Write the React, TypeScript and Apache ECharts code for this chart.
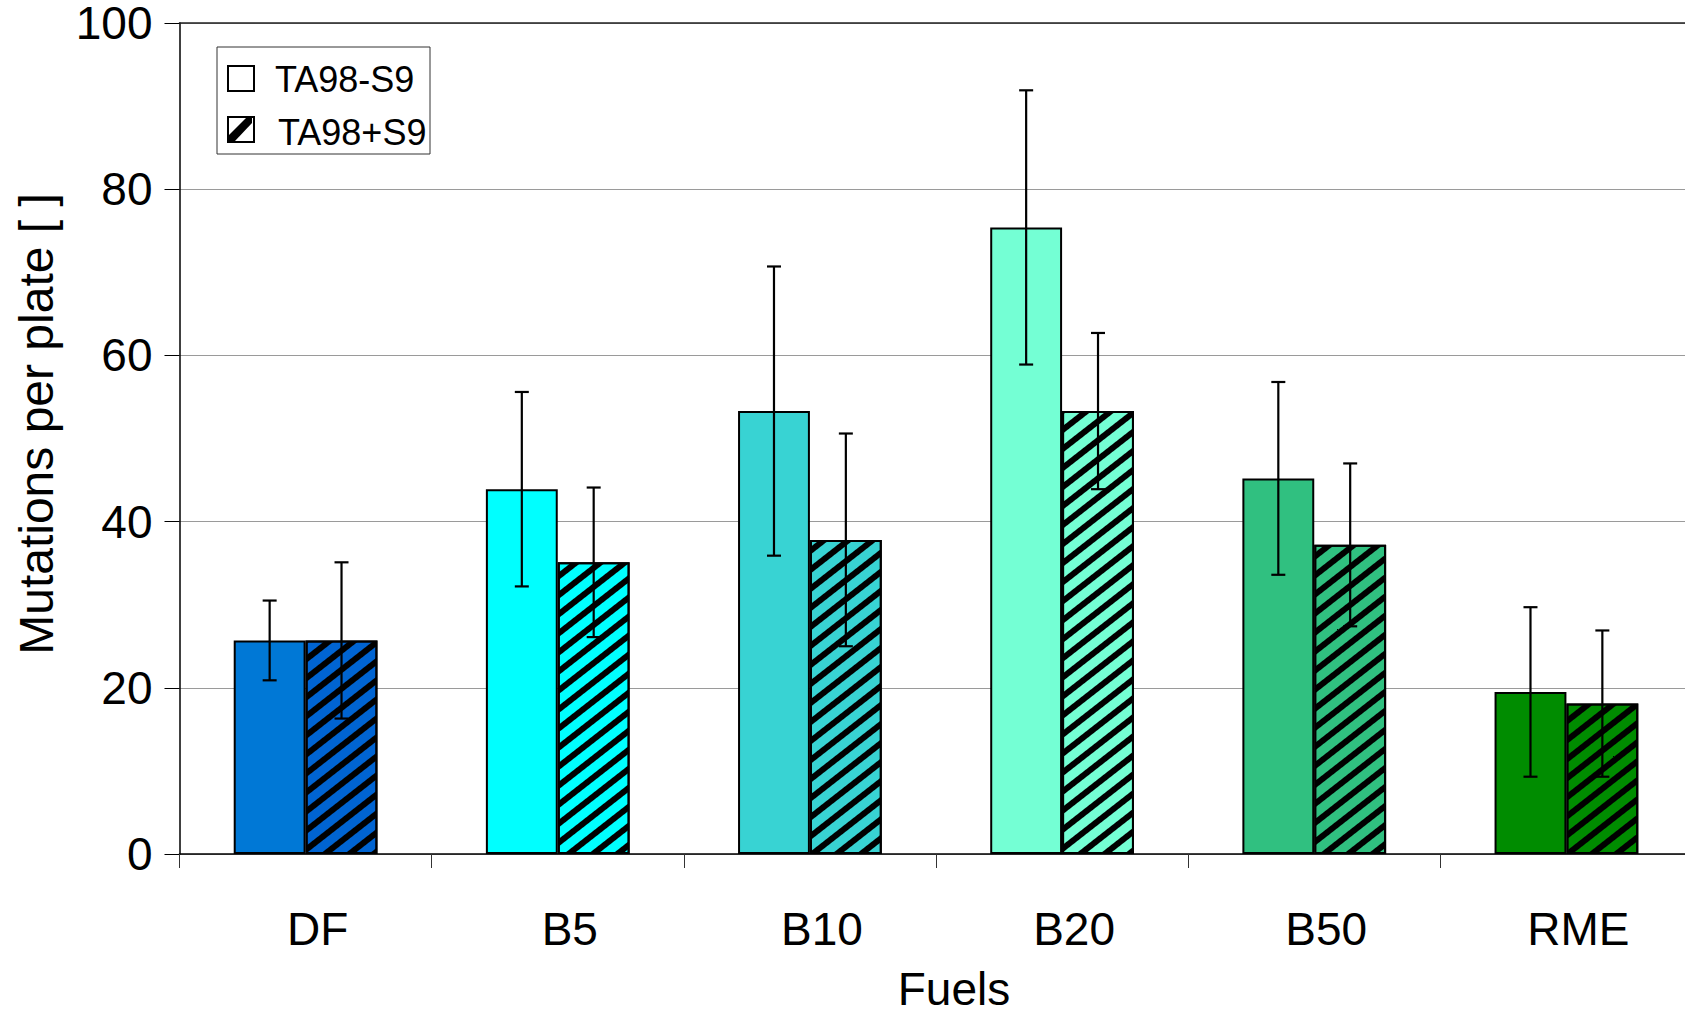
import React, { useEffect, useRef } from "react";
import * as echarts from "echarts";

const categories = ["DF", "B5", "B10", "B20", "B50", "RME"];
const seriesNames = ["TA98-S9", "TA98+S9"];
const minusS9 = [25.7, 43.9, 53.3, 75.4, 45.2, 19.5];
const minusS9Err = [4.8, 11.7, 17.4, 16.5, 11.6, 10.2];
const plusS9 = [25.7, 35.1, 37.8, 53.3, 37.2, 18.1];
const plusS9Err = [9.4, 9.0, 12.8, 9.4, 9.8, 8.8];
const minusColors = ["#0078D6", "#00FFFF", "#38D3D3", "#74FFD4", "#30C080", "#008C00"];
const plusColors = ["#0064D2", "#00FFFF", "#38D3D3", "#74FFD4", "#30C080", "#008C00"];
const yTicks = { min: 0, max: 100, interval: 20 };
const xAxisName = "Fuels";
const yAxisName = "Mutations per plate [ ]";

const FONT = "'Liberation Sans', Arial, Helvetica, sans-serif";
const CAT_GAP = 0.43;

function errorBarSeries(values: number[], errs: number[], side: number) {
  return {
    type: "custom",
    z: 10,
    silent: true,
    encode: { x: 0, y: [1, 2] },
    data: values.map((v, i) => [i, v - errs[i], v + errs[i]]),
    renderItem: (params: any, api: any) => {
      const cat = api.value(0);
      const lo = api.coord([cat, api.value(1)]);
      const hi = api.coord([cat, api.value(2)]);
      const bw = (api.size([1, 0])[0] * (1 - CAT_GAP)) / 2;
      const x = lo[0] + (side * bw) / 2;
      const cap = 7;
      const style = { stroke: "#000", lineWidth: 2.2 };
      return {
        type: "group",
        children: [
          { type: "line", shape: { x1: x, y1: hi[1], x2: x, y2: lo[1] }, style },
          { type: "line", shape: { x1: x - cap, y1: hi[1], x2: x + cap, y2: hi[1] }, style },
          { type: "line", shape: { x1: x - cap, y1: lo[1], x2: x + cap, y2: lo[1] }, style },
        ],
      };
    },
  };
}

const hatchDecal = {
  symbol: "rect",
  symbolSize: 1,
  dashArrayX: [1, 0],
  dashArrayY: [6, 9],
  rotation: (-38 * Math.PI) / 180,
  color: "#000",
};

export default function App() {
  const ref = useRef<HTMLDivElement>(null);
  useEffect(() => {
    if (!ref.current) return;
    const chart = echarts.init(ref.current, undefined, { renderer: "svg" });
    const lx = 217;
    const ly = 47;
    chart.setOption({
      animation: false,
      backgroundColor: "#fff",
      textStyle: { fontFamily: FONT, color: "#000" },
      grid: { left: 179.5, top: 21.5, right: 7.5, bottom: 159 },
      xAxis: [
        {
          type: "category",
          data: categories,
          boundaryGap: true,
          axisLine: { lineStyle: { color: "#000", width: 1.5 } },
          axisTick: { show: true, length: 14, lineStyle: { color: "#333", width: 1 } },
          axisLabel: {
            fontSize: 46,
            color: "#000",
            margin: 52,
            fontFamily: FONT,
            padding: [0, 0, 0, 24],
          },
          splitLine: { show: false },
        },
        {
          type: "category",
          position: "top",
          data: categories,
          axisLine: { show: true, lineStyle: { color: "#222", width: 1.5 } },
          axisTick: { show: false },
          axisLabel: { show: false },
        },
      ],
      yAxis: {
        type: "value",
        min: yTicks.min,
        max: yTicks.max,
        interval: yTicks.interval,
        axisLine: { show: true, lineStyle: { color: "#000", width: 1.5 } },
        axisTick: { show: true, length: 15, lineStyle: { color: "#000", width: 1 } },
        axisLabel: {
          fontSize: 46,
          lineHeight: 38,
          color: "#000",
          margin: 27,
          fontFamily: FONT,
          padding: [4, 0, 0, 0],
        },
        splitLine: { show: true, lineStyle: { color: "#9a9a9a", width: 1 } },
      },
      series: [
        {
          name: seriesNames[0],
          type: "bar",
          barGap: "0%",
          barCategoryGap: "43%",
          itemStyle: { borderColor: "#000", borderWidth: 2 },
          data: minusS9.map((v, i) => ({ value: v, itemStyle: { color: minusColors[i] } })),
        },
        {
          name: seriesNames[1],
          type: "bar",
          barGap: "0%",
          barCategoryGap: "43%",
          itemStyle: { borderColor: "#000", borderWidth: 2, decal: hatchDecal },
          data: plusS9.map((v, i) => ({
            value: v,
            itemStyle: { color: plusColors[i], decal: hatchDecal },
          })),
        },
        errorBarSeries(minusS9, minusS9Err, -1),
        errorBarSeries(plusS9, plusS9Err, 1),
      ],
      graphic: [
        {
          type: "text",
          x: 954,
          y: 989,
          style: {
            text: xAxisName,
            fontSize: 46,
            lineHeight: 40,
            fontFamily: FONT,
            fill: "#000",
            align: "center",
            verticalAlign: "middle",
          },
        },
        {
          type: "text",
          x: 36,
          y: 424,
          rotation: Math.PI / 2,
          style: {
            text: yAxisName,
            fontSize: 48,
            fontFamily: FONT,
            fill: "#000",
            align: "center",
            verticalAlign: "middle",
          },
        },
        {
          type: "group",
          z: 100,
          children: [
            {
              type: "rect",
              shape: { x: lx, y: ly, width: 213, height: 107 },
              style: { fill: "#fff", stroke: "#333", lineWidth: 1 },
            },
            {
              type: "rect",
              shape: { x: 228, y: 66, width: 26, height: 25 },
              style: { fill: "#fff", stroke: "#000", lineWidth: 2 },
            },
            {
              type: "rect",
              shape: { x: 228, y: 117, width: 26, height: 25 },
              style: { fill: "#fff", stroke: "#000", lineWidth: 2 },
            },
            {
              type: "polygon",
              shape: {
                points: [
                  [229, 135],
                  [246, 118],
                  [252, 118],
                  [252, 123],
                  [235, 141],
                  [229, 141],
                ],
              },
              style: { fill: "#000" },
            },
            {
              type: "text",
              x: 275,
              y: 79,
              style: {
                text: seriesNames[0],
                fontSize: 36,
                fontFamily: FONT,
                fill: "#000",
                verticalAlign: "middle",
              },
            },
            {
              type: "text",
              x: 278,
              y: 132,
              style: {
                text: seriesNames[1],
                fontSize: 36,
                fontFamily: FONT,
                fill: "#000",
                verticalAlign: "middle",
              },
            },
          ],
        },
      ],
    });
    return () => chart.dispose();
  }, []);
  return (
    <div
      style={{ position: "fixed", left: 0, top: 0, width: 1685, height: 1013, overflow: "hidden" }}
    >
      <div ref={ref} style={{ width: 1700, height: 1013 }} />
    </div>
  );
}
